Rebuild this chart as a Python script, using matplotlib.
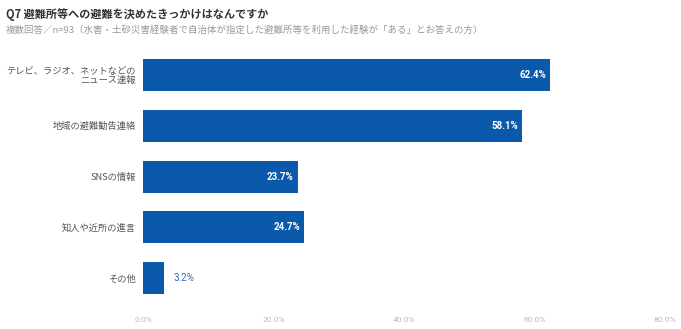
import matplotlib
matplotlib.use("Agg")
import matplotlib.pyplot as plt

categories = ["テレビ、ラジオ、ネットなどの\nニュース速報", "地域の避難勧告連絡", "SNSの情報", "知人や近所の進言", "その他"]
values = [62.4, 58.1, 23.7, 24.7, 3.2]
xticks = [0, 20, 40, 60, 80]
xticklabels = ["0.0%", "20.0%", "40.0%", "60.0%", "80.0%"]
title = "Q7 避難所等への避難を決めたきっかけはなんですか"
subtitle = "複数回答／n=93（水害・土砂災害経験者で自治体が指定した避難所等を利用した経験が「ある」とお答えの方）"

plt.rcParams['font.family'] = ['Noto Sans CJK JP', 'DejaVu Sans']

fig = plt.figure(figsize=(6.81, 3.29), dpi=100)
ax = fig.add_axes([0.21, 0.0775, 0.7665, 0.772])

bar_color = "#0a59ab"
ypos = list(range(len(categories)))
ax.barh(ypos, values, height=0.63, color=bar_color)
ax.set_ylim(len(categories) - 0.5, -0.5)
ax.set_xlim(0, 80)
ax.set_xticks(xticks)
ax.set_xticklabels(xticklabels, fontsize=6, color="#bbbbbb", family=['Roboto', 'DejaVu Sans'])
ax.set_yticks(ypos)
ax.set_yticklabels(categories, fontsize=6.7, color="#555555", linespacing=1.0)
ax.tick_params(axis='both', length=0)
ax.tick_params(axis='y', pad=5)
ax.tick_params(axis='x', pad=10)
for s in ax.spines.values():
    s.set_visible(False)

for y, v in zip(ypos, values):
    if v > 10:
        ax.text(v - 0.6, y, f"{v:.1f}%", ha='right', va='center', color='white',
                fontsize=7, fontweight='bold', family=['Roboto', 'DejaVu Sans'])
    else:
        ax.text(v + 1.5, y, f"{v:.1f}%", ha='left', va='center', color='#2a6fbf',
                fontsize=7, family=['Roboto', 'DejaVu Sans'])

fig.text(0.009, 0.975, title, ha='left', va='top', fontsize=8, fontweight='bold', color='#333333')
fig.text(0.009, 0.925, subtitle, ha='left', va='top', fontsize=6.8, color='#999999')

fig.savefig("out.png", dpi=100)
